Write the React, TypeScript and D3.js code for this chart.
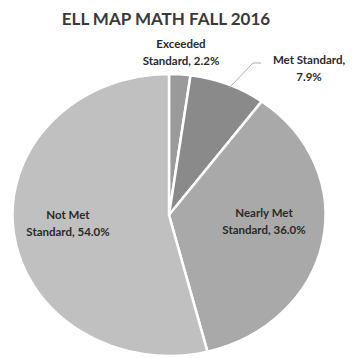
import React from "react";
import * as d3 from "d3";

const categories = ["Exceeded Standard", "Met Standard", "Nearly Met Standard", "Not Met Standard"];
const values = [2.2, 7.9, 36.0, 54.0];
const colors = ["#9a9a9a", "#8a8a8a", "#a9a9a9", "#c0c0c0"];
const title = "ELL MAP MATH FALL 2016";

export default function App() {
  const W = 356, H = 358;
  const cx = 169, cy = 215, r = 141, sx = 1.11;
  const pie = d3.pie<number>().sort(null).value((d) => d);
  const arcs = pie(values);
  const arc = d3.arc<d3.PieArcDatum<number>>().innerRadius(0).outerRadius(r);
  const font = "Lato, 'Open Sans', sans-serif";
  const labelPos: [number, number][] = [
    [181, 48],
    [309, 64],
    [264, 217],
    [68, 219],
  ];
  const lines = [
    ["Exceeded", "Standard, "],
    ["Met Standard,", ""],
    ["Nearly Met", "Standard, "],
    ["Not Met", "Standard, "],
  ];
  const fmt = (v: number) => `${v.toFixed(1)}%`;
  return (
    <svg width={W} height={H} style={{ position: "absolute", left: 0, top: 0, background: "#fff" }}>
      <text x={166} y={25} textAnchor="middle" fontFamily={font} fontWeight={700} fontSize={17} fill="#3a3a3a">
        {title}
      </text>
      <g transform={`translate(${cx},${cy}) scale(${sx},1)`}>
        {arcs.map((a, i) => (
          <path key={categories[i]} d={arc(a) || ""} fill={colors[i]} stroke="#fff" strokeWidth={2.5} vectorEffect="non-scaling-stroke" />
        ))}
      </g>
      <polyline points="229,88 253,63 261,63" fill="none" stroke="#b0b0b0" strokeWidth={1} />
      {lines.map((ls, i) => (
        <text key={i} textAnchor="middle" fontFamily={font} fontWeight={700} fontSize={11.5} fill="#2a2a2a">
          <tspan x={labelPos[i][0]} y={labelPos[i][1]}>{ls[0]}</tspan>
          <tspan x={labelPos[i][0]} y={labelPos[i][1] + 17}>{ls[1] + fmt(values[i])}</tspan>
        </text>
      ))}
    </svg>
  );
}
